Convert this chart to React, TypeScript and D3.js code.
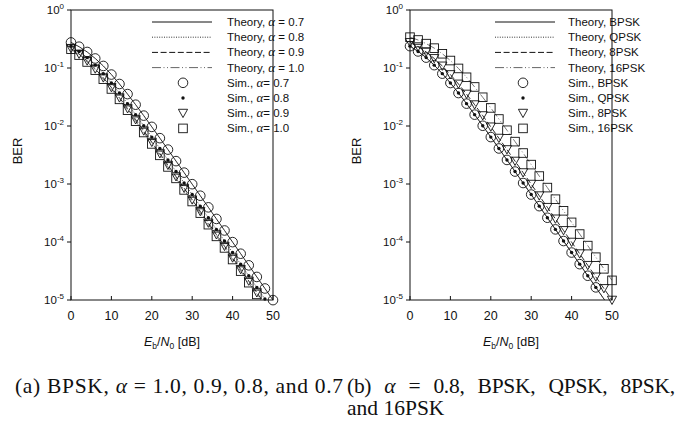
import React from "react";
import * as d3 from "d3";

// Eb/N0 grid in dB (simulation points every 2 dB)
const snrDb = [0, 2, 4, 6, 8, 10, 12, 14, 16, 18, 20, 22, 24, 26, 28, 30, 32, 34, 36, 38, 40, 42, 44, 46, 48, 50];

// (a) BPSK with different alpha
const berAlpha07 = [0.276, 0.233, 0.189, 0.146, 0.1085, 0.0771, 0.053, 0.0355, 0.0233, 0.0151, 0.00966, 0.00617, 0.00392, 0.00248, 0.00157, 0.000993, 0.000628, 0.000396, 0.00025, 0.000158, 0.0000995, 0.0000628, 0.0000396, 0.000025, 0.0000158, 0.00000995];
const berAlpha08 = [0.238, 0.193, 0.151, 0.112, 0.0799, 0.0551, 0.037, 0.0243, 0.0157, 0.0101, 0.00644, 0.0041, 0.0026, 0.00164, 0.00104, 0.000658, 0.000415, 0.000262, 0.000165, 0.000104, 0.0000658, 0.0000415, 0.0000262, 0.0000165, 0.0000104, 0.00000658];
const berAlpha09 = [0.218, 0.174, 0.133, 0.0967, 0.0679, 0.0462, 0.0307, 0.02, 0.0129, 0.00826, 0.00526, 0.00334, 0.00211, 0.00134, 0.000847, 0.000534, 0.000337, 0.000213, 0.000134, 0.0000847, 0.0000534, 0.0000337, 0.0000213, 0.0000134, 0.00000847, 0.00000534];
const berAlpha10 = [0.211, 0.167, 0.127, 0.0919, 0.0642, 0.0435, 0.0288, 0.01875, 0.0121, 0.00773, 0.00491, 0.00312, 0.00197, 0.00125, 0.000791, 0.000499, 0.000315, 0.000199, 0.000125, 0.0000791, 0.0000499, 0.0000315, 0.0000199, 0.0000125, 0.00000791, 0.00000499];
const alphaLabels = ["0.7", "0.8", "0.9", "1.0"];
const alphaSimLastDb = [50, 48, 46, 46];

// (b) alpha = 0.8, M-PSK
const berBpsk = [0.238, 0.193, 0.151, 0.112, 0.0799, 0.0551, 0.037, 0.0243, 0.0157, 0.0101, 0.00644, 0.0041, 0.0026, 0.00164, 0.00104, 0.000658, 0.000415, 0.000262, 0.000165, 0.000104, 0.0000658, 0.0000415, 0.0000262, 0.0000165, 0.0000104, 0.00000658];
const berQpsk = [0.238, 0.193, 0.151, 0.112, 0.0799, 0.0551, 0.037, 0.0243, 0.0157, 0.0101, 0.00644, 0.0041, 0.0026, 0.00164, 0.00104, 0.000658, 0.000415, 0.000262, 0.000165, 0.000104, 0.0000658, 0.0000415, 0.0000262, 0.0000165, 0.0000104, 0.00000658];
const ber8psk = [0.276, 0.233, 0.189, 0.146, 0.1085, 0.0771, 0.053, 0.0355, 0.0233, 0.0151, 0.00966, 0.00617, 0.00392, 0.00248, 0.00157, 0.000993, 0.000628, 0.000396, 0.00025, 0.000158, 0.0000995, 0.0000628, 0.0000396, 0.000025, 0.0000158, 0.00000995];
const ber16psk = [0.34, 0.304, 0.263, 0.22, 0.176, 0.1345, 0.0983, 0.0692, 0.0471, 0.0313, 0.0205, 0.0132, 0.00845, 0.00538, 0.00342, 0.00216, 0.00137, 0.000867, 0.000547, 0.000345, 0.000218, 0.000137, 0.0000867, 0.0000547, 0.0000345, 0.0000218];
const pskLabels = ["BPSK", "QPSK", "8PSK", "16PSK"];
const pskSimLastDb = [46, 46, 50, 50];

const yTickExps = [0, -1, -2, -3, -4, -5];
const xTicks = [0, 10, 20, 30, 40, 50];

const lineDash = [null, "1 1.4", "6 2.6", "9 2.5 1 2.5 1 2.5"];
const lineColor = ["#111", "#333", "#111", "#666"];
const markerKinds = ["circle", "dot", "triangle", "square"];

const SANS = "'Liberation Sans', Arial, Helvetica, sans-serif";
const SERIF = "'Liberation Serif', 'Times New Roman', serif";

function Marker({ kind, x, y }) {
  if (kind === "circle") return <circle cx={x} cy={y} r={4.8} fill="none" stroke="#111" strokeWidth={0.9} />;
  if (kind === "dot") return <circle cx={x} cy={y} r={1.7} fill="#111" />;
  if (kind === "triangle") {
    const s = 4.6;
    return <path d={`M${x - s},${y - s * 0.85}L${x + s},${y - s * 0.85}L${x},${y + s * 0.95}Z`} fill="none" stroke="#111" strokeWidth={0.9} />;
  }
  const h = 4.3;
  return <rect x={x - h} y={y - h} width={2 * h} height={2 * h} fill="none" stroke="#111" strokeWidth={0.9} />;
}

function Panel({ id, left, series, names, simLast, theoryText, simText, legend }) {
  const top = 10, bottom = 300, right = left + 202;
  const x = d3.scaleLinear().domain([0, 50]).range([left, right]);
  const y = d3.scaleLog().domain([1e-5, 1]).range([bottom, top]);
  const line = d3.line().x((d) => x(d[0])).y((d) => y(d[1]));
  const cx = (left + right) / 2;

  return (
    <g fontFamily={SANS} fill="#111">
      <defs>
        <clipPath id={id}>
          <rect x={left} y={top} width={right - left} height={bottom - top} />
        </clipPath>
      </defs>

      {/* theory curves */}
      <g clipPath={`url(#${id})`}>
        {series.map((ber, i) => (
          <path key={i} d={line(snrDb.map((s, k) => [s, ber[k]]))} fill="none"
            stroke={lineColor[i]} strokeWidth={0.9} strokeDasharray={lineDash[i] || undefined} />
        ))}
      </g>

      {/* simulation markers */}
      {series.map((ber, i) => (
        <g key={i}>
          {snrDb.map((s, k) => s <= simLast[i] ? <Marker key={k} kind={markerKinds[i]} x={x(s)} y={y(ber[k])} /> : null)}
        </g>
      ))}

      {/* box */}
      <rect x={left} y={top} width={right - left} height={bottom - top} fill="none" stroke="#111" strokeWidth={1} />

      {/* y axis */}
      {yTickExps.map((e) => (
        <g key={e}>
          <line x1={left - 4} x2={left} y1={y(Math.pow(10, e))} y2={y(Math.pow(10, e))} stroke="#111" />
          <text x={left - 7} y={y(Math.pow(10, e)) + 4} textAnchor="end" fontSize={11.5}>
            10<tspan fontSize={8} dy={-5}>{e === 0 ? "0" : String(e)}</tspan>
          </text>
        </g>
      ))}

      {/* x axis */}
      {xTicks.map((t) => (
        <g key={t}>
          <line x1={x(t)} x2={x(t)} y1={bottom} y2={bottom - 4} stroke="#111" />
          <text x={x(t)} y={bottom + 20} textAnchor="middle" fontSize={12.5}>{t}</text>
        </g>
      ))}

      <text x={cx} y={346} textAnchor="middle" fontSize={12.5}>
        <tspan fontStyle="italic">E</tspan>
        <tspan fontSize={8.5} dy={3}>b</tspan>
        <tspan dy={-3}>/</tspan>
        <tspan fontStyle="italic">N</tspan>
        <tspan fontSize={8.5} dy={3}>0</tspan>
        <tspan dy={-3}> [dB]</tspan>
      </text>

      <text transform={`translate(${left - 49},151) rotate(-90)`} textAnchor="middle" fontSize={13}>BER</text>

      {/* legend */}
      {names.map((n, i) => {
        const ty = 22 + i * 15.2;
        const sy = 22 + (i + 4) * 15.2;
        return (
          <g key={i} fontSize={11.5}>
            <line x1={legend.x1} x2={legend.x2} y1={ty} y2={ty} stroke={lineColor[i]} strokeWidth={1}
              strokeDasharray={lineDash[i] || undefined} />
            <text x={legend.tx} y={ty + 4}>{theoryText(n)}</text>
            <Marker kind={markerKinds[i]} x={legend.mx} y={sy} />
            <text x={legend.tx} y={sy + 4}>{simText(n)}</text>
          </g>
        );
      })}
    </g>
  );
}

const alphaSpan = <tspan fontFamily={SERIF} fontStyle="italic" fontSize={13}>α</tspan>;

export default function App() {
  return (
    <svg width={689} height={421} style={{ position: "absolute", left: 0, top: 0, background: "#fff" }}>
      <rect width={689} height={421} fill="#fff" />
      <Panel id="clipA" left={71}
        series={[berAlpha07, berAlpha08, berAlpha09, berAlpha10]}
        names={alphaLabels}
        simLast={alphaSimLastDb}
        theoryText={(n) => <>Theory, {alphaSpan} = {n}</>}
        simText={(n) => <>Sim., {alphaSpan}= {n}</>}
        legend={{ x1: 152, x2: 212, mx: 183, tx: 227 }} />
      <Panel id="clipB" left={410}
        series={[berBpsk, berQpsk, ber8psk, ber16psk]}
        names={pskLabels}
        simLast={pskSimLastDb}
        theoryText={(n) => <>Theory, {n}</>}
        simText={(n) => <>Sim., {n}</>}
        legend={{ x1: 495, x2: 555, mx: 523, tx: 568 }} />

      <g fontFamily={SERIF} fontSize={21.5} fill="#111">
        <text x={15} y={393} textLength={328} lengthAdjust="spacing">
          (a) BPSK, <tspan fontStyle="italic">α</tspan> = 1.0, 0.9, 0.8, and 0.7
        </text>
        <text x={347} y={393} textLength={328} lengthAdjust="spacing" wordSpacing={8}>
          (b) <tspan fontStyle="italic">α</tspan> = 0.8, BPSK, QPSK, 8PSK,
        </text>
        <text x={347} y={415}>and 16PSK</text>
      </g>
    </svg>
  );
}
